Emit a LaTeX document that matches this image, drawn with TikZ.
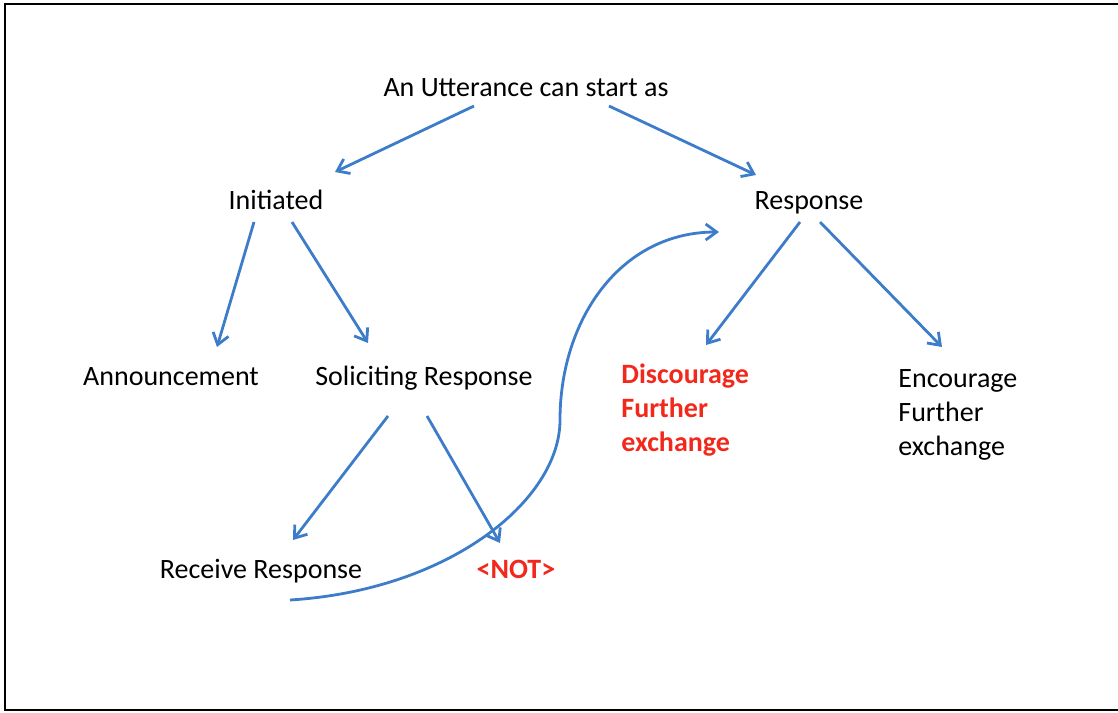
\documentclass[tikz,border=0pt]{standalone}
\usepackage{fontspec}
\setmainfont{Carlito}
\usetikzlibrary{arrows.meta,calc}
\definecolor{cBlue}{HTML}{3D7CC9}
\definecolor{cRed}{HTML}{F2281C}

\begin{document}
\begin{tikzpicture}[x=0.5pt,y=-0.5pt,
	lbl/.style={anchor=base, inner sep=0pt, font=\fontsize{14}{17}\selectfont},
	lblred/.style={lbl, text=cRed, font=\fontsize{14}{17}\selectfont\bfseries},
	conn/.style={cBlue, line width=1.4pt, -{Straight Barb[length=5.5pt,width=8pt]}}]
		\useasboundingbox (0,0) rectangle (1118,712);
		\draw [line width=1pt] (5,4) rectangle (1125,710);
		% labels
		\node [lbl] (utt) at (526,96) {An Utterance can start as};
		\node [lbl] (init) at (276,209) {Initiated};
		\node [lbl] (resp) at (809,209) {Response};
		\node [lbl] (ann) at (171,385) {Announcement};
		\node [lbl] (sol) at (424,385) {Soliciting Response};
		\node [lblred, anchor=base west, align=left] (disc) at (621,451) {Discourage\\Further\\exchange};
		\node [lbl, anchor=base west, align=left] (enc) at (898,455) {Encourage\\Further\\exchange};
		\node [lbl] (recv) at (261,578) {Receive Response};
		\node [lblred] (nott) at (516,578) {<NOT>};
		% tree arrows
		\draw [conn] ($(utt.base)+(-52,10)$) -- ($(init.base)+(59,-37)$);
		\draw [conn] ($(utt.base)+(83,10)$) -- ($(resp.base)+(-53,-34)$);
		\draw [conn] ($(init.base)+(-22,13)$) -- ($(ann.base)+(46,-38)$);
		\draw [conn] ($(init.base)+(16,13)$) -- ($(sol.base)+(-56,-42)$);
		\draw [conn] ($(resp.base)+(-9,13)$) -- ($(disc.base west)+(85,-106)$);
		\draw [conn] ($(resp.base)+(11,13)$) -- ($(enc.base west)+(44,-108)$);
		\draw [conn] ($(sol.base)+(-36,31)$) -- ($(recv.base)+(32,-38)$);
		\draw [conn] ($(sol.base)+(3,31)$) -- ($(nott.base)+(-16,-35)$);
		% loop back up to Response
		\coordinate (swing) at (560,420);
		\draw [conn] ($(recv.base)+(29,22)$) .. controls +(160,-10) and +(0,80) .. (swing)
			.. controls +(0,-100) and +(-99,0) .. ($(resp.base)+(-90,23)$);
\end{tikzpicture}
\end{document}
